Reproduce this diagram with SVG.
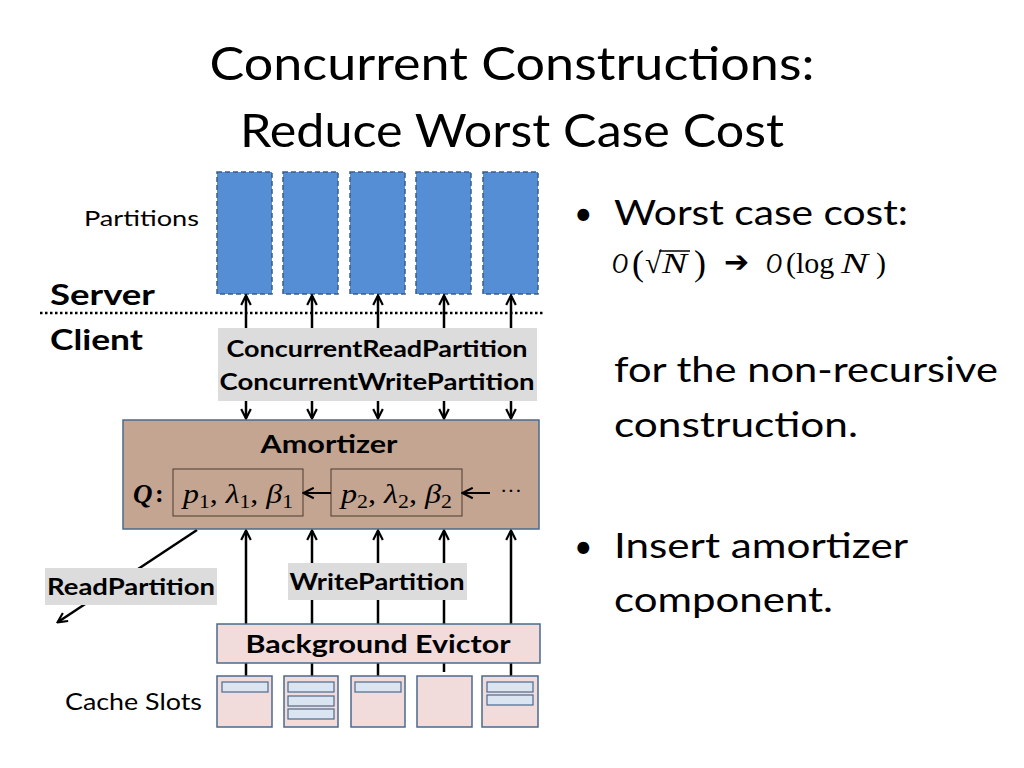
<svg xmlns="http://www.w3.org/2000/svg" width="1024" height="768" viewBox="0 0 1024 768">
<defs>
<marker id="ah" viewBox="0 0 10 10" refX="8.5" refY="5" markerWidth="12" markerHeight="12" markerUnits="userSpaceOnUse" orient="auto">
<path d="M1,1 L9,5 L1,9" fill="none" stroke="#000" stroke-width="1.8"/>
</marker>
<marker id="ahs" viewBox="0 0 10 10" refX="8.5" refY="5" markerWidth="13" markerHeight="13" markerUnits="userSpaceOnUse" orient="auto">
<path d="M1,1 L9,5 L1,9" fill="none" stroke="#000" stroke-width="1.6"/>
</marker>
<style>
.sans{font-family:"Lato","Liberation Sans",sans-serif;fill:#000}
.b{font-weight:bold}
.part{fill:#558ed5;stroke:#385d8a;stroke-width:1.5;stroke-dasharray:5,3}
.lab{fill:#dcdcdc}
.amort{fill:#c4a591;stroke:#4a6a8e;stroke-width:1.5}
.qbox{fill:none;stroke:#4d3b2e;stroke-width:1}
.pink{fill:#f2dcdb;stroke:#4a6a8e;stroke-width:1.5}
.bar{fill:#dbe5f1;stroke:#4a6a8e;stroke-width:1.2}
.con{stroke:#000;stroke-width:2.5;fill:none}
.math{font-family:"Liberation Serif","DejaVu Serif",serif;font-style:italic;fill:#000}
.up{font-style:normal}
</style>
</defs>
<rect width="1024" height="768" fill="#fff"/>

<g id="title">
<text class="sans" x="512" y="80" font-size="46" text-anchor="middle" textLength="605" lengthAdjust="spacingAndGlyphs">Concurrent Constructions:</text>
<text class="sans" x="512" y="147" font-size="46" text-anchor="middle" textLength="544" lengthAdjust="spacingAndGlyphs">Reduce Worst Case Cost</text>
</g>

<g id="side-labels">
<text class="sans" x="199" y="226" font-size="21" text-anchor="end" textLength="115" lengthAdjust="spacingAndGlyphs">Partitions</text>
<text class="sans b" x="50" y="305" font-size="28" textLength="105" lengthAdjust="spacingAndGlyphs">Server</text>
<text class="sans b" x="50" y="350" font-size="28" textLength="93" lengthAdjust="spacingAndGlyphs">Client</text>
<line x1="40" y1="313" x2="545" y2="313" stroke="#000" stroke-width="2.5" stroke-dasharray="2.5,2.5"/>
<text class="sans" x="65" y="710" font-size="23" textLength="137" lengthAdjust="spacingAndGlyphs">Cache Slots</text>
</g>

<g id="partitions">
<rect class="part" x="217" y="172" width="55" height="122"/>
<rect class="part" x="283" y="172" width="55" height="122"/>
<rect class="part" x="350" y="172" width="55" height="122"/>
<rect class="part" x="416" y="172" width="55" height="122"/>
<rect class="part" x="483" y="172" width="55" height="122"/>
</g>

<g id="connectors">
<line class="con" x1="246" y1="330" x2="246" y2="296" marker-end="url(#ah)"/>
<line class="con" x1="312" y1="330" x2="312" y2="296" marker-end="url(#ah)"/>
<line class="con" x1="378" y1="330" x2="378" y2="296" marker-end="url(#ah)"/>
<line class="con" x1="444" y1="330" x2="444" y2="296" marker-end="url(#ah)"/>
<line class="con" x1="511" y1="330" x2="511" y2="296" marker-end="url(#ah)"/>
<line class="con" x1="246" y1="400" x2="246" y2="418" marker-end="url(#ah)"/>
<line class="con" x1="312" y1="400" x2="312" y2="418" marker-end="url(#ah)"/>
<line class="con" x1="378" y1="400" x2="378" y2="418" marker-end="url(#ah)"/>
<line class="con" x1="444" y1="400" x2="444" y2="418" marker-end="url(#ah)"/>
<line class="con" x1="511" y1="400" x2="511" y2="418" marker-end="url(#ah)"/>
<line class="con" x1="246" y1="624" x2="246" y2="531" marker-end="url(#ah)"/>
<line class="con" x1="312" y1="624" x2="312" y2="531" marker-end="url(#ah)"/>
<line class="con" x1="378" y1="624" x2="378" y2="531" marker-end="url(#ah)"/>
<line class="con" x1="444" y1="624" x2="444" y2="531" marker-end="url(#ah)"/>
<line class="con" x1="511" y1="624" x2="511" y2="531" marker-end="url(#ah)"/>
<line class="con" x1="197" y1="530" x2="58" y2="622" marker-end="url(#ah)"/>
<line class="con" x1="246" y1="663" x2="246" y2="676"/>
<line class="con" x1="312" y1="663" x2="312" y2="676"/>
<line class="con" x1="378" y1="663" x2="378" y2="676"/>
<line class="con" x1="444" y1="663" x2="444" y2="672"/>
<line class="con" x1="511" y1="663" x2="511" y2="676"/>
</g>

<g id="concurrent-label">
<rect class="lab" x="218" y="328" width="319" height="73"/>
<text class="sans b" x="377" y="357" font-size="22" text-anchor="middle" textLength="301" lengthAdjust="spacingAndGlyphs">ConcurrentReadPartition</text>
<text class="sans b" x="377" y="390" font-size="22" text-anchor="middle" textLength="315" lengthAdjust="spacingAndGlyphs">ConcurrentWritePartition</text>
</g>

<g id="amortizer">
<rect class="amort" x="123" y="420" width="416" height="109"/>
<text class="sans b" x="329" y="453" font-size="25" text-anchor="middle" textLength="137" lengthAdjust="spacingAndGlyphs">Amortizer</text>
<text x="133" y="503" font-family="Liberation Serif,serif" font-weight="bold" font-style="italic" font-size="27">Q</text>
<text x="155" y="502" font-family="Liberation Serif,serif" font-weight="bold" font-size="26">:</text>
<rect class="qbox" x="173" y="469" width="130" height="47"/>
<rect class="qbox" x="331" y="469" width="131" height="47"/>
<text class="math" x="183" y="503" font-size="28" textLength="110" lengthAdjust="spacingAndGlyphs">p<tspan class="up" font-size="19" dy="5">1</tspan><tspan class="up" dy="-5">, </tspan>λ<tspan class="up" font-size="19" dy="5">1</tspan><tspan class="up" dy="-5">, </tspan>β<tspan class="up" font-size="19" dy="5">1</tspan></text>
<text class="math" x="341" y="503" font-size="28" textLength="111" lengthAdjust="spacingAndGlyphs">p<tspan class="up" font-size="19" dy="5">2</tspan><tspan class="up" dy="-5">, </tspan>λ<tspan class="up" font-size="19" dy="5">2</tspan><tspan class="up" dy="-5">, </tspan>β<tspan class="up" font-size="19" dy="5">2</tspan></text>
<line x1="331" y1="493" x2="304" y2="493" stroke="#000" stroke-width="2" marker-end="url(#ahs)"/>
<line x1="490" y1="493" x2="463" y2="493" stroke="#000" stroke-width="2" marker-end="url(#ahs)"/>
<text x="500" y="498" font-family="Liberation Serif,serif" font-size="22">···</text>
</g>

<g id="readpartition-label">
<rect class="lab" x="45" y="568" width="172" height="37"/>
<text class="sans b" x="131" y="595" font-size="22" text-anchor="middle" textLength="168" lengthAdjust="spacingAndGlyphs">ReadPartition</text>
</g>

<g id="writepartition-label">
<rect class="lab" x="288" y="563" width="179" height="37"/>
<text class="sans b" x="377" y="590" font-size="22" text-anchor="middle" textLength="175" lengthAdjust="spacingAndGlyphs">WritePartition</text>
</g>

<g id="background-evictor">
<rect class="pink" x="217" y="624" width="323" height="39"/>
<text class="sans b" x="378" y="653" font-size="25" text-anchor="middle" textLength="265" lengthAdjust="spacingAndGlyphs">Background Evictor</text>
</g>

<g id="cache-slots">
<rect class="pink" x="217" y="676" width="55" height="51"/>
<rect class="bar" x="222" y="682" width="46" height="10"/>
<rect class="pink" x="284" y="676" width="54" height="51"/>
<rect class="bar" x="288" y="682" width="46" height="10"/>
<rect class="bar" x="288" y="696" width="46" height="10"/>
<rect class="bar" x="288" y="709" width="46" height="10"/>
<rect class="pink" x="351" y="676" width="54" height="51"/>
<rect class="bar" x="355" y="682" width="46" height="10"/>
<rect class="pink" x="417" y="676" width="55" height="51"/>
<rect class="pink" x="482" y="676" width="56" height="51"/>
<rect class="bar" x="487" y="682" width="46" height="10"/>
<rect class="bar" x="487" y="695" width="46" height="10"/>
</g>

<g id="bullets">
<text class="sans" x="574" y="225" font-size="32">•</text>
<text class="sans" x="614" y="225" font-size="35" textLength="294" lengthAdjust="spacingAndGlyphs">Worst case cost:</text>
<text class="math" x="612" y="273" font-size="30" textLength="16" lengthAdjust="spacingAndGlyphs">O</text>
<text class="math up" x="632" y="275" font-size="36">(</text>
<text class="math up" x="645" y="273" font-size="30">√</text>
<text class="math" x="662" y="273" font-size="30" textLength="25" lengthAdjust="spacingAndGlyphs">N</text>
<text class="math up" x="694" y="275" font-size="36">)</text>
<line x1="659" y1="251" x2="690" y2="251" stroke="#000" stroke-width="1.5"/>
<text x="724" y="272" font-family="DejaVu Sans,sans-serif" font-weight="bold" font-size="30">➔</text>
<text class="math" x="766" y="273" font-size="30" textLength="16" lengthAdjust="spacingAndGlyphs">O</text>
<text class="math up" x="786" y="273" font-size="30">(log</text>
<text class="math" x="841" y="273" font-size="30" textLength="27" lengthAdjust="spacingAndGlyphs">N</text>
<text class="math up" x="876" y="273" font-size="30">)</text>
<text class="sans" x="614" y="382" font-size="35" textLength="384" lengthAdjust="spacingAndGlyphs">for the non-recursive</text>
<text class="sans" x="614" y="437" font-size="35" textLength="244" lengthAdjust="spacingAndGlyphs">construction.</text>
<text class="sans" x="574" y="558" font-size="32">•</text>
<text class="sans" x="614" y="558" font-size="35" textLength="294" lengthAdjust="spacingAndGlyphs">Insert amortizer</text>
<text class="sans" x="614" y="612" font-size="35" textLength="219" lengthAdjust="spacingAndGlyphs">component.</text>
</g>
</svg>
